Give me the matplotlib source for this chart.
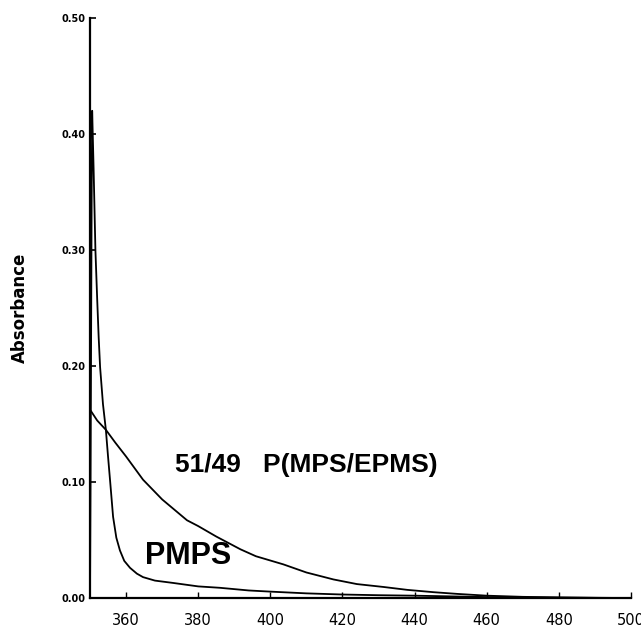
import matplotlib
matplotlib.use("Agg")
import matplotlib.pyplot as plt

# PMPS spectrum
pmps_x = [350.0, 350.15, 350.3, 350.45, 350.6, 351.0, 351.5, 352.0, 352.4, 352.8, 353.6,
          354.4, 355.0, 355.6, 356.4, 357.3, 358.3, 359.5, 361.1, 363.0, 364.7, 368.0,
          373.0, 380.0, 386.0, 394.0, 400.0, 410.0, 420.0, 430.0, 440.0, 450.0, 460.0,
          470.0, 480.0, 490.0, 498.0]
pmps_y = [0.0, 0.10, 0.22, 0.34, 0.42, 0.37, 0.30, 0.257, 0.225, 0.199, 0.167,
          0.145, 0.122, 0.100, 0.070, 0.052, 0.041, 0.032, 0.026, 0.021, 0.018, 0.015,
          0.013, 0.010, 0.0088, 0.0065, 0.0055, 0.0040, 0.0030, 0.0024, 0.0020, 0.0014, 0.0008,
          0.0005, 0.0003, 0.0001, 0.0]

# 51/49 P(MPS/EPMS) copolymer spectrum
copo_x = [350.3, 352.0, 354.4, 357.0, 360.0, 364.7, 370.0, 376.9, 380.0, 385.0, 391.7,
          396.0, 403.6, 410.0, 417.5, 424.0, 431.4, 438.0, 445.3, 452.0, 460.0, 470.0,
          480.0, 490.0, 498.0]
copo_y = [0.161, 0.153, 0.145, 0.134, 0.122, 0.102, 0.085, 0.067, 0.062, 0.053, 0.042,
          0.036, 0.029, 0.022, 0.016, 0.012, 0.0095, 0.007, 0.005, 0.0035, 0.002, 0.001,
          0.0005, 0.0002, 0.0]

x_ticks = [360, 380, 400, 420, 440, 460, 480, 500]
y_ticks = [0.0, 0.1, 0.2, 0.3, 0.4, 0.5]
y_tick_labels = ["0.00", "0.10", "0.20", "0.30", "0.40", "0.50"]

fig = plt.figure(figsize=(6.41, 6.32), dpi=100)
ax = fig.add_axes([90 / 641, 34 / 632, 541 / 641, 580 / 632])

ax.plot(pmps_x, pmps_y, color="black", lw=1.3, solid_joinstyle="round")
ax.plot(copo_x, copo_y, color="black", lw=1.3, solid_joinstyle="round")

ax.set_xlim(350, 500)
ax.set_ylim(0, 0.5)
ax.spines["top"].set_visible(False)
ax.spines["right"].set_visible(False)
for s in ("left", "bottom"):
    ax.spines[s].set_linewidth(1.6)
ax.spines["left"].set_bounds(0, 0.5)

ax.set_xticks(x_ticks)
ax.set_xticklabels([str(v) for v in x_ticks], fontsize=10.5, family="DejaVu Sans")
ax.set_yticks(y_ticks)
ax.set_yticklabels(y_tick_labels, fontsize=7, fontweight="bold", family="DejaVu Sans")
ax.tick_params(axis="x", direction="in", length=4, width=1, pad=11)
ax.tick_params(axis="y", direction="in", length=4, width=1.2, pad=3)

ax.set_ylabel("Absorbance", fontsize=12, fontweight="bold", family="DejaVu Sans")
ax.yaxis.set_label_coords(-0.112, 0.5)

ax.text(373.6, 0.115, "51/49   P(MPS/EPMS)", fontsize=19, fontweight="bold",
        family="Liberation Sans", ha="left", va="center")
ax.text(365.3, 0.036, "PMPS", fontsize=22, fontweight="bold",
        family="Liberation Sans", ha="left", va="center")

fig.savefig("out.png", dpi=100)
